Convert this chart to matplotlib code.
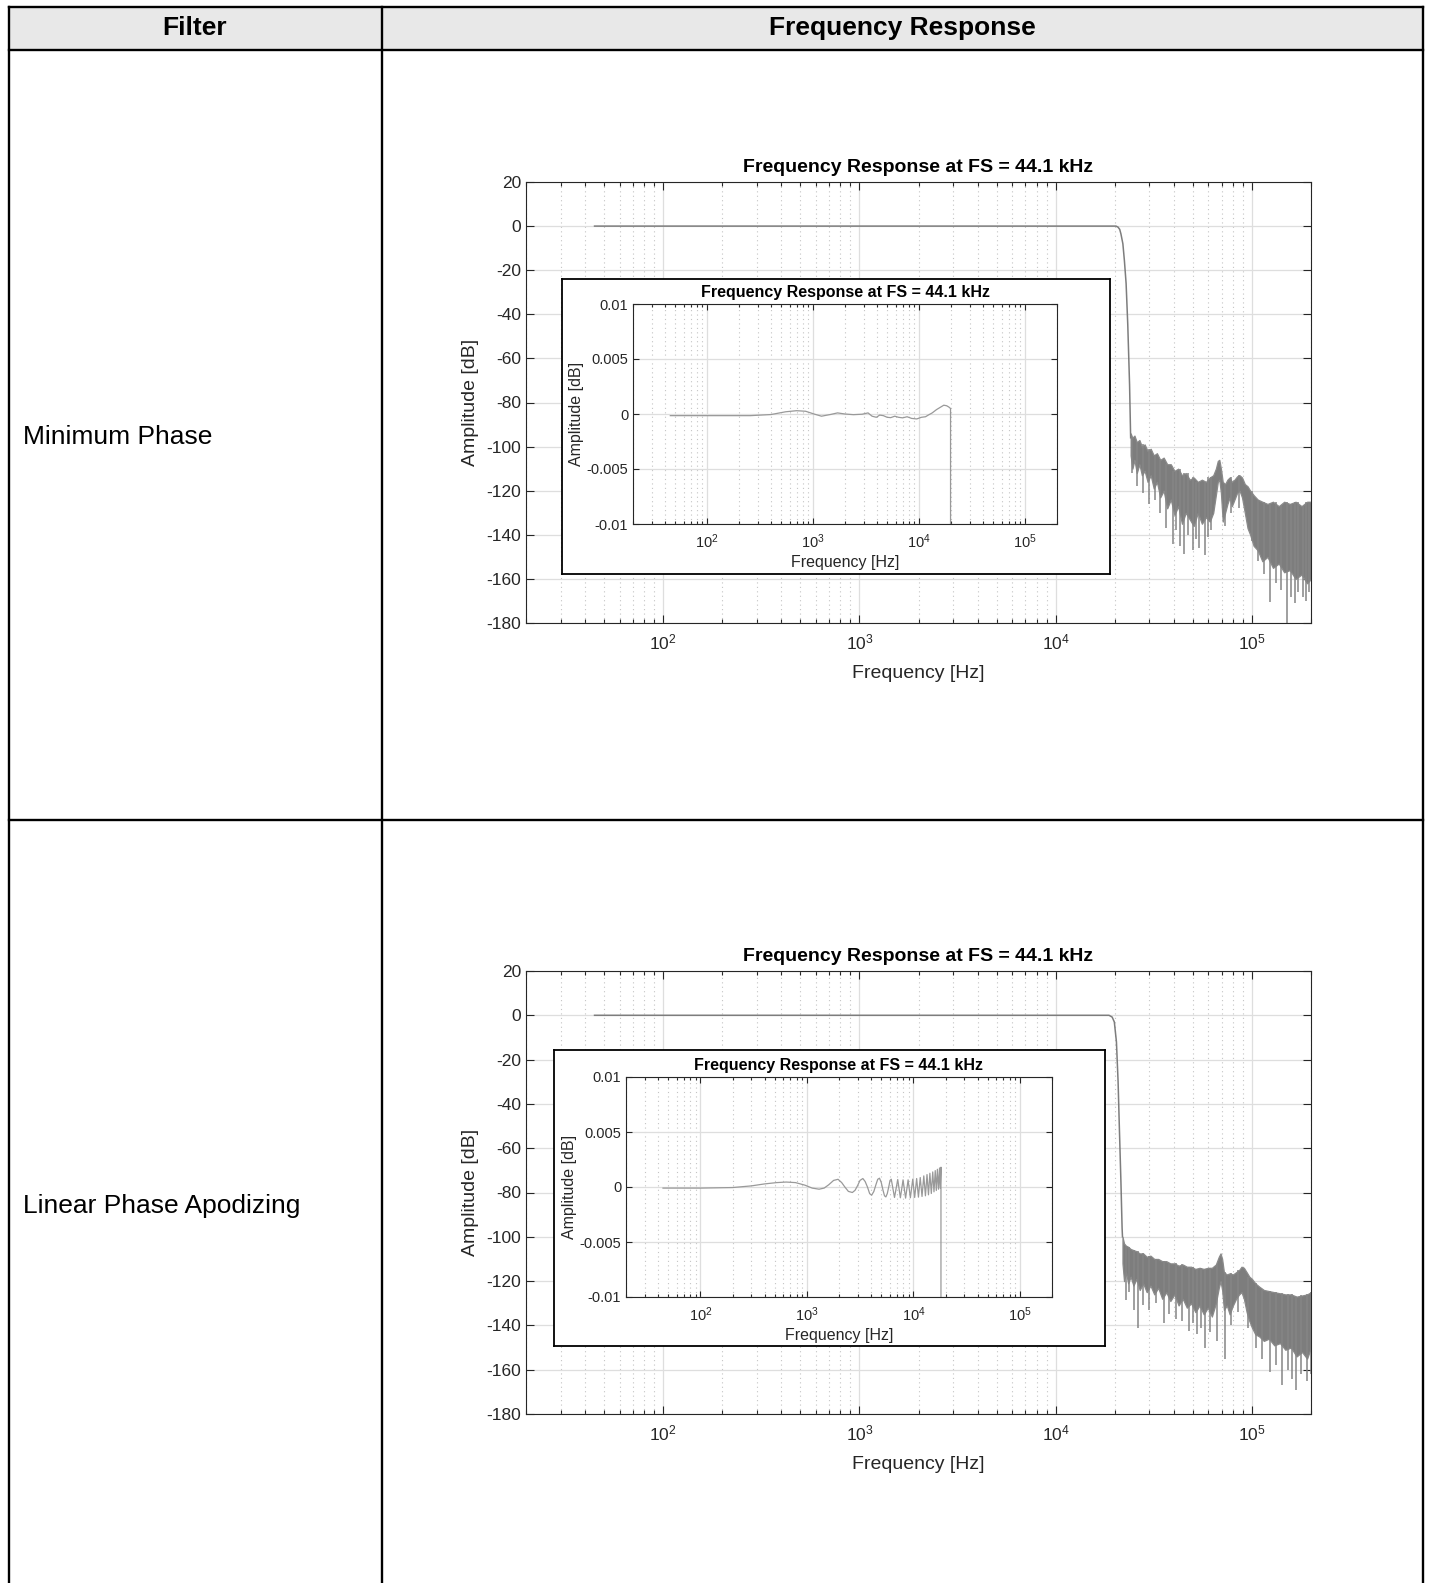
import matplotlib
matplotlib.use('Agg')
import matplotlib.pyplot as plt
from matplotlib.ticker import LogLocator, NullFormatter

# ---- data ----
# Minimum Phase: passband + transition (Hz, dB)
mp_f = [44.7, 20300, 20800, 21200, 21500, 22000, 22400, 22850, 23300, 23800, 24100]
mp_db = [0, 0, -0.5, -1.5, -3.5, -8, -15.7, -26, -44.7, -72, -96]
# Minimum Phase: stopband noise band (kHz, upper and lower edge in dB)
mp_stop_khz = [24.1, 24.6, 25.2, 25.9, 26.7, 27.5, 28.4, 29.4, 30.5, 31.6, 32.8, 34.1, 35.5,
               37, 38.6, 40.3, 42.1, 44, 46, 48.2, 50.5, 53, 55.6, 58.3, 61, 63.5, 65.5, 67,
               68.2, 69.5, 71, 73, 75, 77, 79, 81.5, 84, 86.5, 89, 92, 95, 98, 102, 107, 113,
               120, 128, 137, 146, 156, 167, 179, 191, 200]
mp_stop_hi = [-94, -96, -95, -98, -97, -100, -99, -102, -101, -104, -103, -106, -105, -108,
              -108, -111, -110, -113, -112, -115, -114, -116, -115, -116, -114, -113, -110,
              -106.5, -106, -110, -116, -117, -115, -114, -116, -115, -113.5, -113, -114,
              -117, -118, -120, -122, -124, -125, -126, -125, -127, -125, -126, -125, -127,
              -125, -125]
mp_stop_lo = [-104, -110, -106, -112, -108, -113, -111, -116, -113, -119, -116, -123, -120,
              -128, -124, -131, -127, -135, -130, -133, -136, -130, -135, -132, -134, -130,
              -122, -116, -115, -121, -134, -130, -126, -123, -127, -124, -121, -120, -123,
              -130, -137, -140, -145, -147, -152, -150, -155, -153, -157, -156, -160, -158,
              -162, -160]
# Minimum Phase: deep dips (kHz, dip bottom dB)
mp_dip_khz = [24.5, 26, 28, 30, 32, 34, 36.5, 39.5, 41, 43, 45.3, 47, 50, 52, 54, 57.4, 60,
              62, 72.5, 78, 86, 100, 108, 115, 124, 132, 140, 151, 158, 165, 172, 182, 189, 196]
mp_dip_db = [-112, -118, -121, -126, -124, -130, -137, -144, -138, -145, -148.5, -140, -147,
             -142, -146, -149, -141, -138, -136, -130, -128, -143, -152, -158, -170.7, -162,
             -165, -182, -168, -171, -166, -168, -170, -166]

# Minimum Phase inset (Hz, dB)
mp_in_f = [45, 100, 256, 400, 550, 697, 850, 1020, 1200, 1450, 1700, 2000, 2400, 2900,
           3300, 3600, 3950, 4250, 4600, 5000, 5400, 5900, 6400, 7000, 7700, 8500,
           9500, 10500, 11500, 12200, 13300, 14600, 15800, 17100, 18200, 19100, 19800, 19800]
mp_in_db = [-0.00015, -0.00015, -0.00015, -0.00005, 0.0002, 0.0003, 0.00025, 0.0, -0.0002,
            -0.00005, 0.0001, 0.0, -0.00006, -0.00002, 0.0001, -0.0002, -0.0003, -0.0001,
            -0.00015, -0.0003, -0.00033, -0.0002, -0.0003, -0.00035, -0.00025, -0.0004,
            -0.00045, -0.0003, -0.00025, -0.0001, 0.0001, 0.0004, 0.0006, 0.0008, 0.00075,
            0.00063, 0.0005, -0.0105]

# Linear Phase Apodizing: passband + transition
la_f = [44.7, 18700, 19400, 19900, 20400, 20800, 21100, 21500, 21800, 21900]
la_db = [0, 0, -0.8, -3, -12, -30, -50, -75, -96, -100]
la_stop_khz = [21.9, 22.3, 22.8, 23.4, 24.1, 24.9, 25.8, 26.8, 27.9, 29.1, 30.4, 31.8, 33.3,
               34.9, 36.6, 38.4, 40.3, 42.3, 44.4, 46.6, 49, 51.5, 54.1, 56.8, 59.6, 62.5,
               65.5, 67.8, 69.2, 70.5, 72, 74.5, 77, 80, 83, 86, 88.5, 91, 94, 97, 100, 104,
               109, 115, 122, 130, 139, 148, 158, 169, 180, 191, 200]
la_stop_hi = [-100, -103, -104, -104.5, -105.5, -106, -106.5, -107.5, -107.5, -109, -108.5,
              -110, -110, -111, -111, -112, -112, -113, -112.5, -113.5, -113.5, -114.5, -114,
              -114.5, -114, -114, -112.5, -109, -107.5, -110, -116, -117, -116.5, -117, -116,
              -115, -113.5, -114, -116, -118, -119, -121, -122.5, -124, -124.5, -125, -125.5,
              -126, -126, -127, -126.5, -126, -125]
la_stop_lo = [-112, -120, -116, -121, -118, -122, -119, -124, -121, -125, -122, -126, -123,
              -128, -125, -129, -126, -131, -128, -132, -130, -134, -131, -135, -132, -136,
              -130, -123, -120, -124, -133, -131, -135, -131, -128, -126, -125, -128, -134,
              -138, -141, -144, -145, -147, -146, -149, -148, -151, -150, -154, -152, -155,
              -150]
la_dip_khz = [22.7, 23.6, 25, 26.3, 28, 30, 32.5, 35.5, 38, 41, 44, 47.6, 50, 52.5, 55, 58,
              61, 66.2, 72.5, 78, 85, 96, 105, 113, 124, 133, 142, 152, 160, 167, 178, 190, 199]
la_dip_db = [-128.5, -125, -133, -141, -131, -133, -130, -139, -135, -137, -138, -142.6, -139,
             -144, -141, -150, -143, -147, -155, -140, -134, -141, -150, -155, -161, -158, -167,
             -160, -164, -169, -162, -165, -162]

# Linear Phase Apodizing inset
la_in_f = [44.5, 100, 200, 300, 400, 520, 638, 780, 955, 1120, 1300, 1450, 1600, 1780, 1960,
           2120, 2270, 2450, 2670, 2830, 2980, 3150, 3350, 3520, 3700, 3880, 4050, 4250,
           4440, 4620, 4800, 4990, 5180, 5350, 5510, 5680, 5860, 6030,
           6190, 6640, 7120, 7540, 7990, 8440, 8910, 9360, 9850, 10270, 10720, 11140,
           11580, 12040, 12510, 12960, 13410, 13840, 14270, 14720, 15180, 15590, 16020,
           16400, 16780, 17180, 17580, 17850, 18130, 18130]
la_in_db = [-0.0001, -0.0001, -0.00005, 0.0001, 0.00028, 0.0004, 0.00045, 0.0004, 0.00017,
            -0.0001, -0.0002, -0.0001, 0.0002, 0.0006, 0.0007, 0.0004, 0.0, -0.0004, -0.0005,
            -0.0003, 0.0001, 0.0006, 0.00077, 0.0005, 0.0, -0.0006, -0.00075, -0.0004, 0.0002,
            0.0007, 0.0008, 0.0004, -0.0003, -0.0008, -0.0009, -0.0006, 0.0, 0.0006,
            0.00071, -0.00095, 0.00068, -0.00098, 0.00065, -0.00101, 0.00065, -0.00098,
            0.00071, -0.00095, 0.00077, -0.00092, 0.00086, -0.00086, 0.00101, -0.0008,
            0.00113, -0.00071, 0.00125, -0.00059, 0.00137, -0.00044, 0.00149, -0.00032,
            0.00161, -0.0002, 0.00173, -0.0001, 0.0018, -0.0105]

row_labels = ['Minimum Phase', 'Linear Phase Apodizing']
headers = ['Filter', 'Frequency Response']
title = 'Frequency Response at FS = 44.1 kHz'
in_yticks = [-0.01, -0.005, 0, 0.005, 0.01]
in_ylabels = ['-0.01', '-0.005', '0', '0.005', '0.01']

# ---- figure ----
W, H = 1429, 1583
plt.rcParams['font.family'] = ['Liberation Sans', 'DejaVu Sans']
plt.rcParams['axes.unicode_minus'] = False
plt.rcParams['mathtext.default'] = 'regular'
dark = '#262626'
curve = '#7d7d7d'

fig = plt.figure(figsize=(W / 100, H / 100), dpi=100)


def box(l, t, r, b):
    return [l / W, 1 - b / H, (r - l) / W, (b - t) / H]


# table drawn on a full-figure axes in pixel units
bg = fig.add_axes([0, 0, 1, 1])
bg.set_xlim(0, W)
bg.set_ylim(H, 0)
bg.axis('off')
bg.fill_between([9, 1423], 7, 49.5, color='#e8e8e8', lw=0)
for x in [9, 382, 1423]:
    bg.plot([x, x], [7, H], color='black', lw=1.7)
for y in [7, 49.5, 820]:
    bg.plot([9, 1423], [y, y], color='black', lw=1.7)
bg.text(195, 28, headers[0], ha='center', va='center', fontsize=19, fontweight='bold')
bg.text(902, 28, headers[1], ha='center', va='center', fontsize=19, fontweight='bold')
bg.text(23, 437, row_labels[0], ha='left', va='center', fontsize=19)
bg.text(23, 1206, row_labels[1], ha='left', va='center', fontsize=19)


def style(ax, size, tlen, xpad):
    ax.set_xscale('log')
    ax.set_xlim(20, 2e5)
    ax.xaxis.set_major_locator(LogLocator(base=10, numticks=10))
    ax.xaxis.set_minor_locator(LogLocator(base=10, subs=range(2, 10), numticks=20))
    ax.xaxis.set_minor_formatter(NullFormatter())
    ax.grid(True, which='major', color='#dedede', lw=0.9)
    ax.grid(True, which='minor', axis='x', color='#c4c4c4', lw=0.8, ls=(0, (1, 3)))
    ax.set_axisbelow(True)
    ax.tick_params(which='both', direction='in', top=True, right=True, color=dark,
                   labelcolor=dark, labelsize=size, width=0.8)
    ax.tick_params(which='major', length=tlen)
    ax.tick_params(which='minor', length=tlen * 0.5)
    ax.tick_params(axis='x', which='major', pad=xpad)
    for s in ax.spines.values():
        s.set_color(dark)
        s.set_linewidth(0.8)


def main_plot(rect, f, db, skhz, shi, slo, dkhz, ddb):
    ax = fig.add_axes(box(*rect))
    ax.plot(f, db, color=curve, lw=1.1)
    sf = [k * 1000 for k in skhz]
    ax.fill_between(sf, slo, shi, color=curve, lw=0.9, edgecolor='#8a8a8a')
    df = [k * 1000 for k in dkhz]
    # dips hang from the band's upper edge
    top = [shi[min(range(len(sf)), key=lambda i: abs(sf[i] - x))] for x in df]
    ax.vlines(df, ddb, top, color='#858585', lw=1.1)
    style(ax, 12.5, 6, 7)
    ax.set_ylim(-180, 20)
    ax.set_yticks(range(-180, 21, 20))
    ax.set_title(title, fontsize=14, fontweight='bold', pad=7)
    ax.set_xlabel('Frequency [Hz]', fontsize=14, color=dark, labelpad=9)
    ax.set_ylabel('Amplitude [dB]', fontsize=14, color=dark, labelpad=5)
    return ax


def inset_plot(prect, rect, f, db):
    panel = fig.add_axes(box(*prect))
    panel.set_xticks([])
    panel.set_yticks([])
    for s in panel.spines.values():
        s.set_color('black')
        s.set_linewidth(1.3)
    panel.set_zorder(5)
    ax = fig.add_axes(box(*rect))
    ax.set_zorder(6)
    ax.plot(f, db, color='#999999', lw=0.9)
    style(ax, 10.5, 4, 6)
    ax.set_ylim(-0.01, 0.01)
    ax.set_yticks(in_yticks)
    ax.set_yticklabels(in_ylabels)
    ax.set_title(title, fontsize=11.5, fontweight='bold', pad=5)
    ax.set_xlabel('Frequency [Hz]', fontsize=11.5, color=dark, labelpad=3)
    ax.set_ylabel('Amplitude [dB]', fontsize=11.5, color=dark, labelpad=2)
    return ax


main_plot((526, 182, 1311, 623), mp_f, mp_db, mp_stop_khz, mp_stop_hi, mp_stop_lo,
          mp_dip_khz, mp_dip_db)
inset_plot((562, 279, 1110, 574), (633, 304, 1057, 524), mp_in_f, mp_in_db)

main_plot((526, 971, 1311, 1414), la_f, la_db, la_stop_khz, la_stop_hi, la_stop_lo,
          la_dip_khz, la_dip_db)
inset_plot((554, 1050, 1105, 1346), (626, 1077, 1052, 1297), la_in_f, la_in_db)

fig.savefig('out.png', dpi=100)
